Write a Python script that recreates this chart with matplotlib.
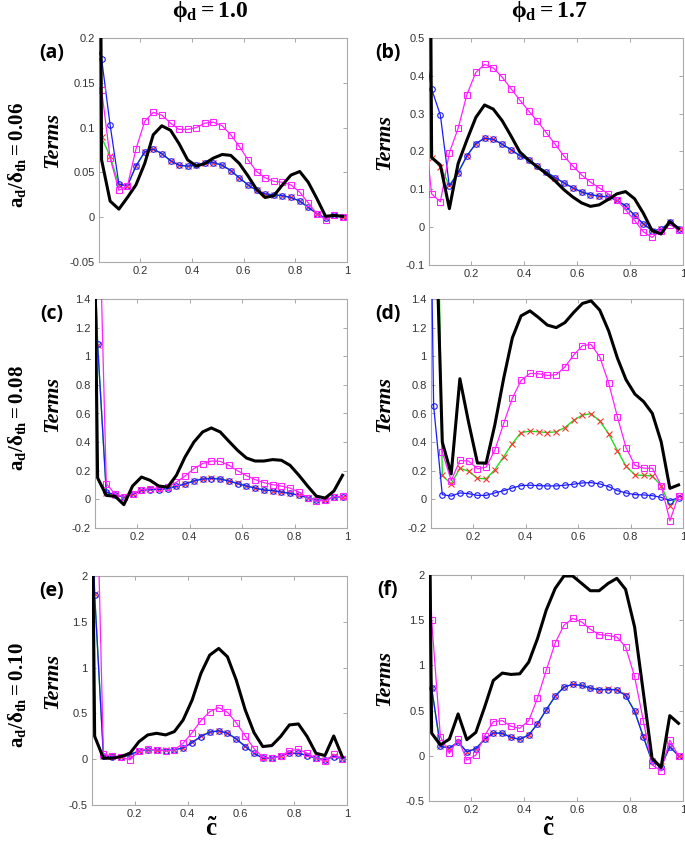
import matplotlib
matplotlib.use("Agg")
import matplotlib.pyplot as plt
from matplotlib.ticker import FuncFormatter

plt.rcParams['mathtext.fontset'] = 'custom'
plt.rcParams['mathtext.rm'] = 'Liberation Serif:bold'
plt.rcParams['mathtext.bf'] = 'Liberation Serif:bold'
plt.rcParams['mathtext.it'] = 'Liberation Serif:bold:italic'

# progress variable (bin centres), first bin lies left of the plotted range
C = [0.017, 0.05, 0.083, 0.117, 0.15, 0.183, 0.217, 0.25, 0.283, 0.317,
     0.35, 0.383, 0.417, 0.45, 0.483, 0.517, 0.55, 0.583, 0.617, 0.65,
     0.683, 0.717, 0.75, 0.783, 0.817, 0.85, 0.883, 0.917, 0.95, 0.983]

# (a) phi=1.0, ad/dth=0.06
a_black = [2.0, 0.064, 0.018, 0.009, 0.022, 0.036, 0.060, 0.092, 0.102, 0.097, 0.082, 0.064, 0.057, 0.060, 0.066,
           0.070, 0.069, 0.060, 0.046, 0.031, 0.022, 0.024, 0.036, 0.047, 0.051, 0.039, 0.021, 0.001, 0.002, 0.001]
a_mag = [0.6, 0.142, 0.066, 0.030, 0.035, 0.076, 0.107, 0.117, 0.114, 0.105, 0.098, 0.098, 0.100, 0.105, 0.106,
         0.102, 0.092, 0.079, 0.064, 0.051, 0.044, 0.040, 0.039, 0.036, 0.028, 0.016, 0.004, -0.003, 0.003, 0.0]
a_blue = [0.2, 0.177, 0.103, 0.037, 0.035, 0.057, 0.073, 0.076, 0.071, 0.063, 0.058, 0.057, 0.058, 0.060, 0.061,
          0.058, 0.052, 0.044, 0.036, 0.030, 0.026, 0.025, 0.024, 0.022, 0.018, 0.011, 0.004, -0.001, 0.002, 0.0]
a_green = [2.0, 0.089, 0.068, 0.036, 0.035, 0.057, 0.073, 0.076, 0.071, 0.063, 0.058, 0.057, 0.058, 0.060, 0.061,
           0.058, 0.052, 0.044, 0.036, 0.030, 0.026, 0.025, 0.024, 0.022, 0.018, 0.011, 0.004, -0.001, 0.002, 0.0]

# (b) phi=1.7, ad/dth=0.06
b_black = [4.0, 0.184, 0.164, 0.049, 0.168, 0.230, 0.290, 0.323, 0.312, 0.281, 0.241, 0.199, 0.177, 0.159, 0.142,
           0.122, 0.099, 0.080, 0.064, 0.055, 0.059, 0.073, 0.088, 0.094, 0.075, 0.037, -0.009, -0.018, 0.015, -0.004]
b_mag = [0.3, 0.088, 0.067, 0.197, 0.261, 0.350, 0.409, 0.430, 0.421, 0.396, 0.366, 0.336, 0.307, 0.280, 0.250,
         0.219, 0.188, 0.162, 0.138, 0.119, 0.104, 0.088, 0.072, 0.046, 0.018, -0.012, -0.027, -0.009, 0.007, -0.007]
b_blue = [0.5, 0.365, 0.296, 0.108, 0.144, 0.188, 0.221, 0.235, 0.232, 0.219, 0.205, 0.189, 0.177, 0.161, 0.146,
          0.131, 0.117, 0.104, 0.093, 0.086, 0.082, 0.080, 0.071, 0.056, 0.031, 0.009, -0.009, -0.006, 0.013, -0.004]
b_green = [0.4, 0.184, 0.159, 0.111, 0.144, 0.188, 0.221, 0.235, 0.232, 0.219, 0.205, 0.189, 0.177, 0.161, 0.146,
           0.131, 0.117, 0.104, 0.093, 0.086, 0.082, 0.080, 0.071, 0.056, 0.031, 0.009, -0.009, -0.006, 0.013, -0.004]

# (c) phi=1.0, ad/dth=0.08
c_black = [5.0, 0.15, 0.028, 0.021, -0.037, 0.093, 0.156, 0.133, 0.093, 0.086, 0.168, 0.296, 0.401, 0.471, 0.499,
           0.471, 0.406, 0.343, 0.289, 0.268, 0.268, 0.278, 0.273, 0.238, 0.168, 0.093, 0.023, 0.009, 0.058, 0.168]
c_mag = [3.0, 2.5, 0.11, 0.035, 0.02, 0.04, 0.068, 0.075, 0.08, 0.086, 0.12, 0.163, 0.215, 0.25, 0.268,
         0.266, 0.238, 0.20, 0.166, 0.138, 0.117, 0.103, 0.093, 0.079, 0.051, 0.012, -0.012, -0.007, 0.019, 0.021]
c_blue = [3.0, 1.083, 0.051, 0.033, 0.016, 0.035, 0.063, 0.068, 0.068, 0.075, 0.091, 0.107, 0.128, 0.142, 0.145,
          0.142, 0.128, 0.110, 0.093, 0.079, 0.065, 0.061, 0.051, 0.042, 0.028, 0.012, -0.007, -0.005, 0.014, 0.019]
c_green = [3.0, 1.08, 0.048, 0.030, 0.015, 0.037, 0.065, 0.070, 0.070, 0.077, 0.093, 0.110, 0.130, 0.145, 0.148,
           0.145, 0.130, 0.112, 0.095, 0.080, 0.066, 0.062, 0.052, 0.043, 0.029, 0.012, -0.006, -0.004, 0.015, 0.020]

# (d) phi=1.7, ad/dth=0.08
d_black = [5.0, 2.5, 0.40, 0.178, 0.843, 0.54, 0.254, 0.254, 0.519, 0.847, 1.129, 1.282, 1.317, 1.270, 1.218,
           1.200, 1.235, 1.305, 1.369, 1.387, 1.322, 1.176, 0.988, 0.836, 0.735, 0.683, 0.601, 0.401, 0.077, 0.101]
d_mag = [5.0, 3.0, 0.331, 0.131, 0.272, 0.268, 0.214, 0.225, 0.343, 0.531, 0.707, 0.831, 0.880, 0.878, 0.866,
         0.871, 0.925, 1.007, 1.075, 1.082, 0.995, 0.812, 0.577, 0.362, 0.237, 0.218, 0.218, 0.096, -0.15, 0.026]
d_blue = [5.0, 0.653, 0.033, 0.023, 0.045, 0.040, 0.028, 0.028, 0.045, 0.061, 0.080, 0.096, 0.099, 0.096, 0.094,
          0.094, 0.099, 0.106, 0.115, 0.117, 0.108, 0.089, 0.061, 0.045, 0.033, 0.031, 0.026, 0.014, -0.009, 0.012]
d_green = [5.0, 4.0, 0.167, 0.108, 0.218, 0.197, 0.148, 0.143, 0.207, 0.298, 0.390, 0.467, 0.477, 0.472, 0.467,
           0.472, 0.502, 0.552, 0.589, 0.599, 0.547, 0.458, 0.340, 0.232, 0.171, 0.167, 0.164, 0.096, -0.045, 0.021]

# (e) phi=1.0, ad/dth=0.10
e_black = [10.0, 0.25, 0.011, 0.011, 0.029, 0.065, 0.192, 0.265, 0.283, 0.265, 0.301, 0.428, 0.646, 0.936, 1.136,
           1.209, 1.118, 0.864, 0.537, 0.290, 0.138, 0.149, 0.247, 0.374, 0.385, 0.247, 0.065, 0.040, 0.254, 0.022]
e_mag = [5.0, 4.0, 0.054, 0.036, 0.022, -0.007, 0.094, 0.109, 0.102, 0.091, 0.102, 0.174, 0.290, 0.421, 0.519,
         0.563, 0.512, 0.399, 0.254, 0.116, 0.022, 0.011, 0.036, 0.091, 0.109, 0.065, 0.011, -0.022, 0.054, 0.004]
e_blue = [5.0, 1.797, 0.036, 0.029, 0.022, 0.047, 0.091, 0.102, 0.102, 0.094, 0.102, 0.123, 0.181, 0.247, 0.294,
          0.309, 0.283, 0.221, 0.138, 0.065, 0.011, 0.011, 0.036, 0.065, 0.065, 0.040, 0.011, -0.007, 0.029, 0.004]
e_green = [5.0, 1.80, 0.038, 0.030, 0.024, 0.049, 0.093, 0.104, 0.104, 0.096, 0.104, 0.125, 0.184, 0.250, 0.297,
           0.312, 0.286, 0.224, 0.140, 0.067, 0.013, 0.013, 0.038, 0.067, 0.067, 0.042, 0.013, -0.005, 0.031, 0.005]

# (f) phi=1.7, ad/dth=0.10
f_black = [10.0, 0.25, 0.12, 0.185, 0.463, 0.178, 0.259, 0.537, 0.833, 0.915, 0.900, 0.907, 1.037, 1.296, 1.611,
           1.852, 1.989, 1.989, 1.907, 1.826, 1.826, 1.907, 1.963, 1.841, 1.426, 0.704, -0.026, -0.13, 0.444, 0.359]
f_mag = [6.0, 1.5, 0.211, 0.026, 0.185, -0.048, 0.007, 0.222, 0.378, 0.389, 0.326, 0.304, 0.389, 0.637, 0.944,
         1.248, 1.444, 1.519, 1.481, 1.400, 1.341, 1.330, 1.315, 1.204, 0.878, 0.389, -0.10, -0.167, 0.174, 0.0]
f_blue = [5.0, 0.748, 0.104, 0.085, 0.152, 0.044, 0.078, 0.181, 0.252, 0.248, 0.204, 0.181, 0.230, 0.352, 0.507,
          0.659, 0.759, 0.789, 0.778, 0.748, 0.730, 0.733, 0.730, 0.667, 0.493, 0.211, -0.063, -0.122, 0.10, 0.0]
f_green = [5.0, 0.75, 0.106, 0.087, 0.154, 0.046, 0.080, 0.184, 0.255, 0.251, 0.207, 0.184, 0.233, 0.355, 0.510,
           0.662, 0.762, 0.792, 0.781, 0.751, 0.733, 0.736, 0.733, 0.670, 0.496, 0.214, -0.060, -0.118, 0.102, 0.002]

W, H = 685, 847
fig = plt.figure(figsize=(W / 100, H / 100), dpi=100)

# panel boxes in pixels: left, right, top, bottom
panels = [
    ('(a)', (99, 347, 38, 262), (-0.05, 0.2), [-0.05, 0, 0.05, 0.1, 0.15, 0.2], (a_black, a_mag, a_blue, a_green)),
    ('(b)', (429, 683, 38, 265), (-0.1, 0.5), [-0.1, 0, 0.1, 0.2, 0.3, 0.4, 0.5], (b_black, b_mag, b_blue, b_green)),
    ('(c)', (95, 347, 299, 528), (-0.2, 1.4), [-0.2, 0, 0.2, 0.4, 0.6, 0.8, 1, 1.2, 1.4], (c_black, c_mag, c_blue, c_green)),
    ('(d)', (431, 683, 299, 528), (-0.2, 1.4), [-0.2, 0, 0.2, 0.4, 0.6, 0.8, 1, 1.2, 1.4], (d_black, d_mag, d_blue, d_green)),
    ('(e)', (92, 347, 576, 805), (-0.5, 2), [-0.5, 0, 0.5, 1, 1.5, 2], (e_black, e_mag, e_blue, e_green)),
    ('(f)', (429, 683, 575, 801), (-0.5, 2), [-0.5, 0, 0.5, 1, 1.5, 2], (f_black, f_mag, f_blue, f_green)),
]

tick_fmt = FuncFormatter(lambda v, p: ('%g' % round(v, 3)))

for tag, (l, r, t, b), ylim, yticks, (blk, mag, blu, grn) in panels:
    ax = fig.add_axes([l / W, 1 - b / H, (r - l) / W, (b - t) / H])
    ax.plot(C, grn, color='#22dd22', linewidth=1.0, marker='x', markersize=4,
            markeredgecolor='#ff3333', markeredgewidth=0.8, zorder=2)
    ax.plot(C, blu, color='#1a1aff', linewidth=0.9, marker='o', markersize=4,
            markerfacecolor='none', markeredgewidth=0.8, zorder=3)
    ax.plot(C, mag, color='#ff22ff', linewidth=0.9, marker='s', markersize=4,
            markerfacecolor='none', markeredgewidth=0.8, zorder=4)
    ax.plot(C, blk, color='black', linewidth=2.2, zorder=5)
    ax.set_xlim(0.04, 1)
    ax.set_ylim(*ylim)
    ax.set_xticks([0.2, 0.4, 0.6, 0.8, 1])
    ax.set_yticks(yticks)
    ax.xaxis.set_major_formatter(tick_fmt)
    ax.yaxis.set_major_formatter(tick_fmt)
    ax.tick_params(direction='in', length=3, width=0.6, colors='#999999', labelcolor='#333333',
                   labelsize=8, top=True, right=True, pad=3)
    for lab in ax.get_xticklabels() + ax.get_yticklabels():
        lab.set_fontfamily('Liberation Sans')
    for s in ax.spines.values():
        s.set_color('#aaaaaa')
        s.set_linewidth(0.8)
    # panel tag
    cx = 52 if l < 200 else 388
    cy = (t + 15)
    fig.text(cx / W, 1 - cy / H, tag, fontsize=14, fontweight='bold', family='Open Sans',
             ha='center', va='center')
    # Terms label
    tx = 52 if l < 200 else 384
    fig.text(tx / W, 1 - ((t + b) / 2 - 10) / H, 'Terms', fontsize=16, fontweight='bold',
             style='italic', family='Liberation Serif', rotation=90, ha='center', va='center')

# column titles
fig.text(210 / W, 1 - 12 / H, r'$\mathrm{\phi_d = 1.0}$', fontsize=17, ha='center', va='center')
fig.text(549 / W, 1 - 12 / H, r'$\mathrm{\phi_d = 1.7}$', fontsize=17, ha='center', va='center')

# row labels
for lab, yc in [('0.06', 155), ('0.08', 418), ('0.10', 695)]:
    fig.text(17 / W, 1 - yc / H, r'$\mathrm{a_d/\delta_{th} = ' + lab + '}$', fontsize=15,
             rotation=90, ha='center', va='center')

# x labels
fig.text(212 / W, 1 - 829 / H, r'$\tilde{\mathrm{c}}$', fontsize=18, ha='center', va='center')
fig.text(549 / W, 1 - 829 / H, r'$\tilde{\mathrm{c}}$', fontsize=18, ha='center', va='center')

fig.savefig('out.png', dpi=100)
